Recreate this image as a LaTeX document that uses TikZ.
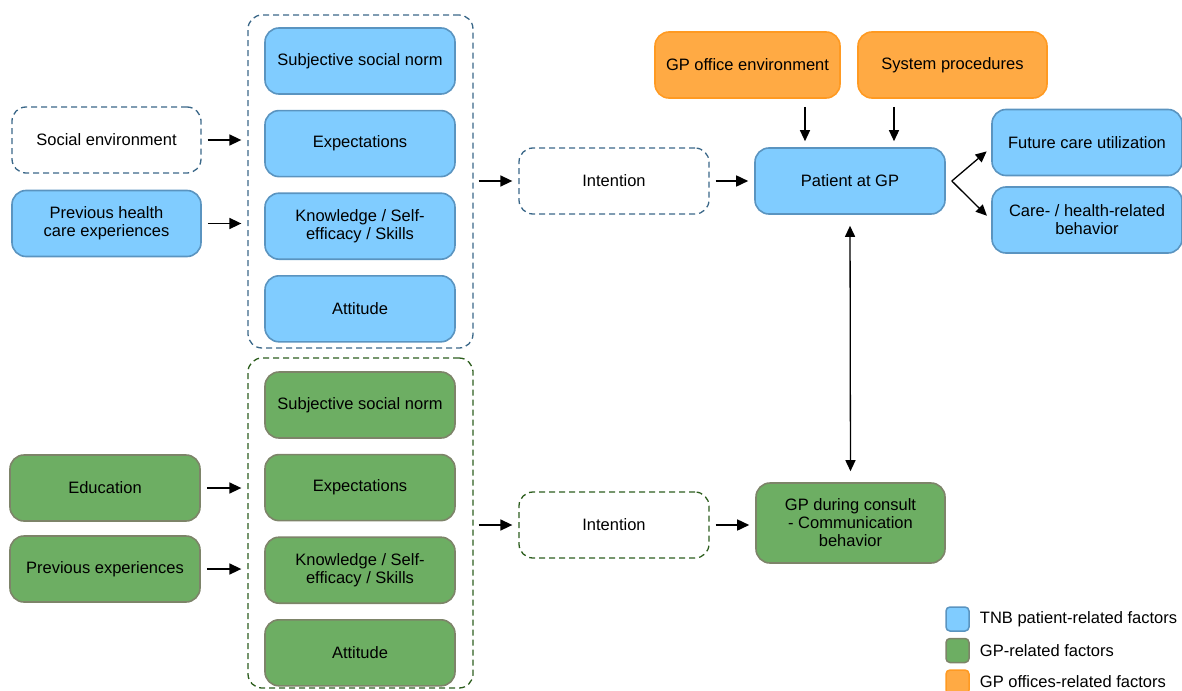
\documentclass[tikz,border=0pt]{standalone}
\usepackage{fontspec}
\setmainfont{Liberation Sans}
\usetikzlibrary{positioning,arrows.meta}
\definecolor{tnbfill}{HTML}{80CCFF}
\definecolor{tnbline}{HTML}{5A94C0}
\definecolor{gpfill}{HTML}{6DAE63}
\definecolor{gpline}{HTML}{7D8469}
\definecolor{offill}{HTML}{FFAA44}
\definecolor{ofline}{HTML}{FF9A22}
\definecolor{tnbdash}{HTML}{3A6788}
\definecolor{gpdash}{HTML}{2D5E1E}
\begin{document}
\begin{tikzpicture}[x=1pt,y=-1pt,
  font=\fontsize{16.5}{18}\selectfont,
  box/.style={rectangle,rounded corners=14pt,line width=1.6pt,minimum width=190pt,minimum height=66pt,align=center,inner sep=2pt},
  tnb/.style={box,draw=tnbline,fill=tnbfill},
  gpr/.style={box,draw=gpline,fill=gpfill},
  ofc/.style={box,draw=ofline,fill=offill},
  dashbox/.style={rectangle,rounded corners=14pt,line width=1.3pt,dash pattern=on 6pt off 4pt},
  arr/.style={-{Triangle[length=12pt,width=11pt]},line width=1.6pt,shorten <=6pt,shorten >=6pt},
  thinarr/.style={arr,-{Triangle[length=11pt,width=10pt]},line width=1.3pt},
  legbox/.style={rectangle,rounded corners=4pt,line width=1.5pt,minimum width=23pt,minimum height=24pt},
  node distance=15pt]
\useasboundingbox (0,0) rectangle (1182,690);
% patient side
\node[dashbox,draw=tnbdash,minimum width=225pt,minimum height=333pt] (pbox) at (360.5,181.5) {};
\node[tnb] (pnorm) at (360,61) {Subjective social norm};
\node[tnb,below=of pnorm] (pexpect) {Expectations};
\node[tnb,below=of pexpect] (pknow) {Knowledge / Self-\\efficacy / Skills};
\node[tnb,below=of pknow] (patt) {Attitude};
\node[box,dashbox,draw=tnbdash,minimum width=189pt] (socenv) at (106.5,140) {Social environment};
\node[tnb,minimum width=189pt] (prevhc) at (106.5,223.5) {Previous health\\care experiences};
\node[box,dashbox,draw=tnbdash] (pint) at (614,181) {Intention};
\node[tnb] (patient) at (850,181) {Patient at GP};
\node[ofc,minimum width=185pt] (office) at (747.5,65) {GP office environment};
\node[ofc,minimum width=189pt] (sysproc) at (952.5,65) {System procedures};
\node[tnb] (future) at (1087,142.5) {Future care utilization};
\node[tnb] (carebeh) at (1087,220) {Care- / health-related\\behavior};
% GP side
\node[dashbox,draw=gpdash,minimum width=225pt,minimum height=330pt] (gbox) at (360.5,523) {};
\node[gpr] (gnorm) at (360,405) {Subjective social norm};
\node[gpr,below=of gnorm] (gexpect) {Expectations};
\node[gpr,below=of gexpect] (gknow) {Knowledge / Self-\\efficacy / Skills};
\node[gpr,below=of gknow] (gatt) {Attitude};
\node[gpr] (educ) at (105,488) {Education};
\node[gpr] (prevexp) at (105,569) {Previous experiences};
\node[box,dashbox,draw=gpdash] (gint) at (614,525) {Intention};
\node[gpr,minimum width=189pt,minimum height=80pt] (consult) at (850.5,523) {GP during consult\\- Communication\\behavior};
% arrows
\draw[arr] (socenv.east) -- (socenv.east -| pbox.west);
\draw[arr] (prevhc.east) -- (prevhc.east -| pbox.west);
\draw[arr] (educ.east) -- (educ.east -| gbox.west);
\draw[arr] (prevexp.east) -- (prevexp.east -| gbox.west);
\draw[arr,shorten <=5pt] (pbox.east |- pint.west) -- (pint.west);
\draw[arr] (pint.east) -- (patient.west);
\draw[arr,shorten <=5pt] (gbox.east |- gint.west) -- (gint.west);
\draw[arr] (gint.east) -- (gint.east -| consult.west);
\coordinate (pin1) at ([xshift=-45pt]patient.north);
\coordinate (pin2) at ([xshift=44pt]patient.north);
\draw[thinarr,shorten <=8pt] (office.south -| pin1) -- (pin1);
\draw[thinarr,shorten <=8pt] (sysproc.south -| pin2) -- (pin2);
\coordinate (pout) at ([xshift=6pt]patient.east);
\draw[thinarr,shorten <=0pt] (pout) -- ([yshift=-5pt]future.west);
\draw[thinarr,shorten <=0pt] (pout) -- (carebeh.west);
\draw[{Triangle[length=11pt,width=10pt]}-{Triangle[length=11pt,width=10pt]},line width=1.3pt,shorten <=11pt,shorten >=11pt] (patient.south) -- (consult.north);
% legend
\node[legbox,draw=tnbline,fill=tnbfill] (legtnb) at (957.5,619) {};
\node[legbox,draw=gpline,fill=gpfill] (leggp) at (957.5,650.5) {};
\node[legbox,draw=ofline,fill=offill] (legof) at (957.5,682) {};
\node[anchor=west,inner sep=0pt] at ([xshift=10pt]legtnb.east) {TNB patient-related factors};
\node[anchor=west,inner sep=0pt] at ([xshift=10pt]leggp.east) {GP-related factors};
\node[anchor=west,inner sep=0pt] at ([xshift=10pt]legof.east) {GP offices-related factors};
\end{tikzpicture}
\end{document}
